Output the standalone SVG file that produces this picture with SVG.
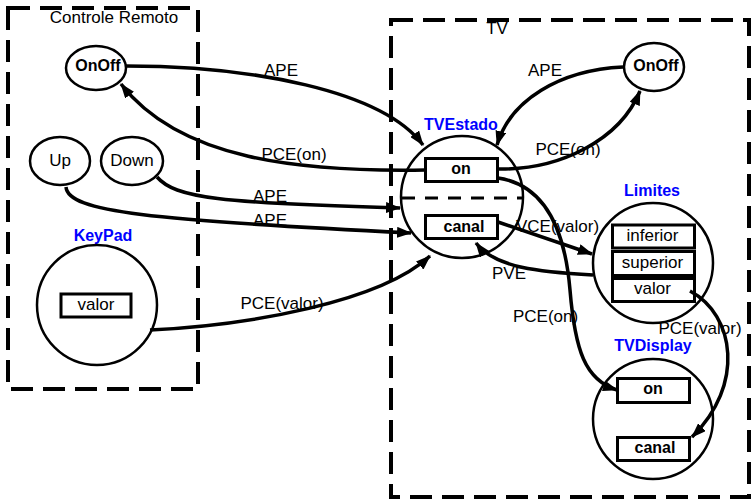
<svg xmlns="http://www.w3.org/2000/svg" width="756" height="502" viewBox="0 0 756 502">
<style>
text{font-family:"Liberation Sans",Arial,sans-serif;font-size:17px;fill:#000;text-anchor:middle}
.b{font-weight:bold;font-size:16px}
.blue{fill:#0000ff;font-weight:bold;font-size:16px}
.box{fill:none;stroke:#000;stroke-width:4;stroke-dasharray:22 10}
.node{fill:none;stroke:#000;stroke-width:2.5}
.attr{fill:#fff;stroke:#000;stroke-width:3}
.sep{fill:none;stroke:#000;stroke-width:3;stroke-dasharray:13 10}
.c{fill:none;stroke:#000;stroke-width:3.5;marker-end:url(#ah)}
</style>
<defs>
<marker id="ah" markerUnits="userSpaceOnUse" markerWidth="15" markerHeight="11" refX="14" refY="5.5" orient="auto">
<path d="M0,0 L15,5.5 L0,11 z" fill="#000"/>
</marker>
</defs>
<rect width="756" height="502" fill="#fff"/>
<g id="controle-remoto">
<rect class="box" x="8" y="8" width="190" height="381"/>
<text x="114" y="23">Controle Remoto</text>
</g>
<g id="tv">
<rect class="box" x="391" y="20" width="358" height="477"/>
<text x="497" y="34">TV</text>
</g>
<g id="onoff-remote">
<ellipse class="node" cx="96" cy="68" rx="30" ry="22"/>
<text class="b" x="98" y="71">OnOff</text>
</g>
<g id="up">
<ellipse class="node" cx="60" cy="161" rx="30" ry="24"/>
<text x="60" y="166">Up</text>
</g>
<g id="down">
<ellipse class="node" cx="132" cy="161" rx="31" ry="24"/>
<text x="132" y="166">Down</text>
</g>
<g id="keypad">
<text class="blue" x="103" y="241">KeyPad</text>
<circle class="node" cx="97" cy="305" r="60"/>
<rect class="attr" x="61" y="294" width="70" height="23"/>
<text x="96" y="310">valor</text>
</g>
<g id="onoff-tv">
<ellipse class="node" cx="654" cy="67" rx="30" ry="24"/>
<text class="b" x="656" y="71">OnOff</text>
</g>
<g id="tvestado">
<text class="blue" x="461" y="130">TVEstado</text>
<circle class="node" cx="462" cy="197" r="61"/>
<line class="sep" x1="402" y1="198" x2="523" y2="198"/>
<rect class="attr" x="425.5" y="158.5" width="72" height="23"/>
<text class="b" x="461" y="174">on</text>
<rect class="attr" x="425.5" y="215.5" width="72" height="23"/>
<text class="b" x="464" y="232">canal</text>
</g>
<g id="limites">
<text class="blue" x="652" y="196">Limites</text>
<circle class="node" cx="653" cy="263" r="60"/>
<rect class="attr" x="612.5" y="225" width="82" height="23"/>
<text x="652.5" y="241">inferior</text>
<rect class="attr" x="612.5" y="251.5" width="82" height="24"/>
<text x="652.5" y="268">superior</text>
<rect class="attr" x="612.5" y="278.5" width="82" height="23"/>
<text x="652.5" y="294">valor</text>
</g>
<g id="tvdisplay">
<text class="blue" x="653" y="351">TVDisplay</text>
<circle class="node" cx="653" cy="419" r="60"/>
<rect class="attr" x="617.5" y="378.5" width="72" height="24"/>
<text class="b" x="653" y="394">on</text>
<rect class="attr" x="617.5" y="437.5" width="72" height="23"/>
<text class="b" x="655" y="453">canal</text>
</g>
<g id="connectors">
<path class="c" d="M126,66 C250,66 382,90 423,145"/>
<text x="281" y="76">APE</text>
<path class="c" d="M425,170 C300,172 180,160 121,84"/>
<text x="294" y="160">PCE(on)</text>
<path class="c" d="M157,177 C175,198 220,203 400,208"/>
<text x="270" y="202">APE</text>
<path class="c" d="M66,187 C68,212 150,220 411,233"/>
<text x="270" y="226">APE</text>
<path class="c" d="M150,330 C250,325 380,302 430,256"/>
<text x="282" y="309">PCE(valor)</text>
<path class="c" d="M623,67 C560,70 510,100 497,145"/>
<text x="545" y="76">APE</text>
<path class="c" d="M498,169 C560,170 620,140 640,91"/>
<text x="568" y="155">PCE(on)</text>
<text x="516" y="232" style="text-anchor:start">VCE(valor)</text>
<path class="c" d="M498,222 L592,254"/>
<path class="c" d="M593,275 C540,272 495,268 476,243"/>
<text x="509" y="279">PVE</text>
<text x="513" y="322" style="text-anchor:start">PCE(on)</text>
<path class="c" d="M498,178 C545,185 565,230 570,290 C575,350 585,380 617,390"/>
<path class="c" d="M690,291 C735,315 745,385 692,437"/>
<text x="700" y="334">PCE(valor)</text>
</g>
</svg>
